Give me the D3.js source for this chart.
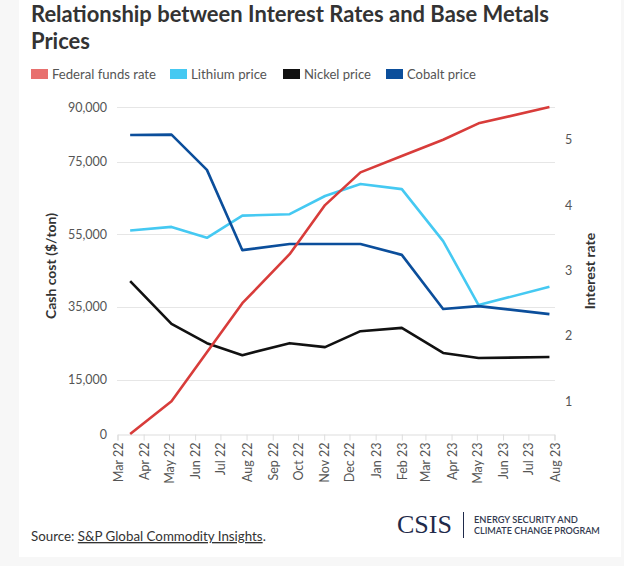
<!DOCTYPE html>
<html><head><meta charset="utf-8">
<script src="https://cdn.jsdelivr.net/npm/d3@7"></script>
<style>body{margin:0;background:#f7f7f7;font-family:Lato,"Open Sans",sans-serif}</style>
</head><body><svg id="c" width="624" height="566"></svg>
<script>
// ---- data ----
const dates = ["2022-03-16","2022-05-04","2022-06-15","2022-07-27","2022-09-21","2022-11-02","2022-12-14","2023-02-01","2023-03-22","2023-05-03","2023-07-26"];
const fedRate = [0.5, 1.0, 1.75, 2.5, 3.25, 4.0, 4.5, 4.75, 5.0, 5.25, 5.5];
const lithium = [56000, 57000, 54000, 60100, 60500, 65500, 68800, 67400, 53100, 35500, 40500];
const nickel  = [42100, 30300, 25000, 21700, 25000, 23900, 28300, 29200, 22300, 20900, 21200];
const cobalt  = [82300, 82400, 72700, 50600, 52300, 52300, 52300, 49300, 34400, 35200, 33000];
const leftTicks = [0, 15000, 35000, 55000, 75000, 90000];
const rightTicks = [1, 2, 3, 4, 5];
const seriesNames = ["Federal funds rate", "Lithium price", "Nickel price", "Cobalt price"];
const lineColors = ["#d83c3a", "#45c9f2", "#111111", "#0b4e9b"];
const swatchColors = ["#e8706e", "#45c9f2", "#111111", "#0b4e9b"];
const titleText = "Relationship between Interest Rates and Base Metals";
const titleText2 = "Prices";
const leftTitle = "Cash cost ($/ton)";
const rightTitle = "Interest rate";

const svg = d3.select("#c");
const parse = d3.timeParse("%Y-%m-%d");
const X = dates.map(parse);

function fit(sel, target) {
  const n = sel.node();
  const fs = parseFloat(sel.attr("font-size"));
  const w = n.getComputedTextLength();
  sel.attr("font-size", (fs * target / w).toFixed(2));
}

// card
svg.append("rect").attr("x", 19).attr("y", 0).attr("width", 602).attr("height", 557).attr("fill", "#fff");

// title
const t1 = svg.append("text").attr("x", 31).attr("y", 22).attr("font-size", 21).attr("font-weight", 700).attr("fill", "#333").text(titleText);
fit(t1, 518);
svg.append("text").attr("x", 31).attr("y", 49).attr("font-size", t1.attr("font-size")).attr("font-weight", 700).attr("fill", "#333").text(titleText2);

// legend
const legX = [31, 170, 283, 386];
const legW = [104, 76, 67, 69];
seriesNames.forEach((s, i) => {
  svg.append("rect").attr("x", legX[i]).attr("y", 69).attr("width", 17).attr("height", 10).attr("fill", swatchColors[i]);
  const t = svg.append("text").attr("x", legX[i] + 21).attr("y", 79).attr("font-size", 13).attr("fill", "#555").text(s);
  fit(t, legW[i]);
});

// scales
const x = d3.scaleTime().domain([new Date(2022, 2, 1), new Date(2023, 7, 1)]).range([117.5, 554.5]);
const yL = d3.scaleLinear().domain([0, 90000]).range([434, 107]);
const yR = d3.scaleLinear().domain([0.5, 5.5]).range([434, 107]);

// gridlines
svg.append("g").selectAll("line").data(leftTicks.filter(d => d > 0)).join("line")
  .attr("x1", 117).attr("x2", 555).attr("y1", d => Math.round(yL(d)) + 0.5).attr("y2", d => Math.round(yL(d)) + 0.5)
  .attr("stroke", "#e6e6e6").attr("stroke-width", 1);

// left axis
const gL = svg.append("g").attr("transform", "translate(117,0)")
  .call(d3.axisLeft(yL).tickValues(leftTicks).tickFormat(d3.format(",")).tickSize(0).tickPadding(10));
gL.select(".domain").remove();
gL.selectAll("text").attr("font-size", 12.5).attr("fill", "#555").attr("font-family", "Lato,sans-serif");

// right axis
const gR = svg.append("g").attr("transform", "translate(555,0)")
  .call(d3.axisRight(yR).tickValues(rightTicks).tickFormat(d3.format("d")).tickSize(0).tickPadding(10));
gR.select(".domain").remove();
gR.selectAll("text").attr("font-size", 12.5).attr("fill", "#555").attr("font-family", "Lato,sans-serif");

// x axis
const gX = svg.append("g").attr("transform", "translate(0,434.5)")
  .call(d3.axisBottom(x).ticks(d3.timeMonth.every(1)).tickFormat(d3.timeFormat("%b %y")).tickSize(6).tickPadding(8));
gX.select(".domain").attr("stroke", "#ddd");
gX.selectAll(".tick line").attr("stroke", "#ddd");
gX.selectAll("text").attr("font-size", 12.5).attr("fill", "#555").attr("font-family", "Lato,sans-serif")
  .attr("text-anchor", "end").attr("dy", null)
  .attr("transform", "translate(0,8) rotate(-90)").attr("x", 0).attr("y", 0).attr("dominant-baseline", "central");

// axis titles
svg.append("text").attr("transform", "translate(50,266) rotate(-90)").attr("text-anchor", "middle").attr("dominant-baseline", "central")
  .attr("font-size", 14).attr("font-weight", 700).attr("fill", "#333").text(leftTitle);
svg.append("text").attr("transform", "translate(589,271) rotate(-90)").attr("text-anchor", "middle").attr("dominant-baseline", "central")
  .attr("font-size", 14).attr("font-weight", 700).attr("fill", "#333").text(rightTitle);

// lines
const lineL = d3.line().x((d, i) => x(X[i])).y(d => yL(d));
const lineR = d3.line().x((d, i) => x(X[i])).y(d => yR(d));
const series = [
  {vals: lithium, line: lineL, color: lineColors[1]},
  {vals: nickel, line: lineL, color: lineColors[2]},
  {vals: cobalt, line: lineL, color: lineColors[3]},
  {vals: fedRate, line: lineR, color: lineColors[0]},
];
svg.append("g").selectAll("path").data(series).join("path")
  .attr("d", s => s.line(s.vals)).attr("fill", "none").attr("stroke", s => s.color)
  .attr("stroke-width", 2.6).attr("stroke-linejoin", "round");

// footer
const src = svg.append("text").attr("x", 31).attr("y", 541).attr("font-size", 13.5).attr("fill", "#333");
src.append("tspan").text("Source: ");
src.append("tspan").attr("text-decoration", "underline").text("S&P Global Commodity Insights");
src.append("tspan").text(".");
fit(src, 235);

const csis = svg.append("text").attr("x", 397).attr("y", 533).attr("font-size", 27).attr("font-family", "'Liberation Serif',serif").attr("fill", "#1f2a4a").text("CSIS");
fit(csis, 55);
svg.append("line").attr("x1", 463.5).attr("x2", 463.5).attr("y1", 512).attr("y2", 538).attr("stroke", "#1f2a4a").attr("stroke-width", 1);
const e1 = svg.append("text").attr("x", 474).attr("y", 523).attr("font-size", 8.5).attr("font-weight", 600).attr("fill", "#333a50").text("ENERGY SECURITY AND");
fit(e1, 104);
const e2 = svg.append("text").attr("x", 474).attr("y", 534).attr("font-size", 8.5).attr("font-weight", 600).attr("fill", "#333a50").text("CLIMATE CHANGE PROGRAM");
fit(e2, 126);
</script></body></html>
